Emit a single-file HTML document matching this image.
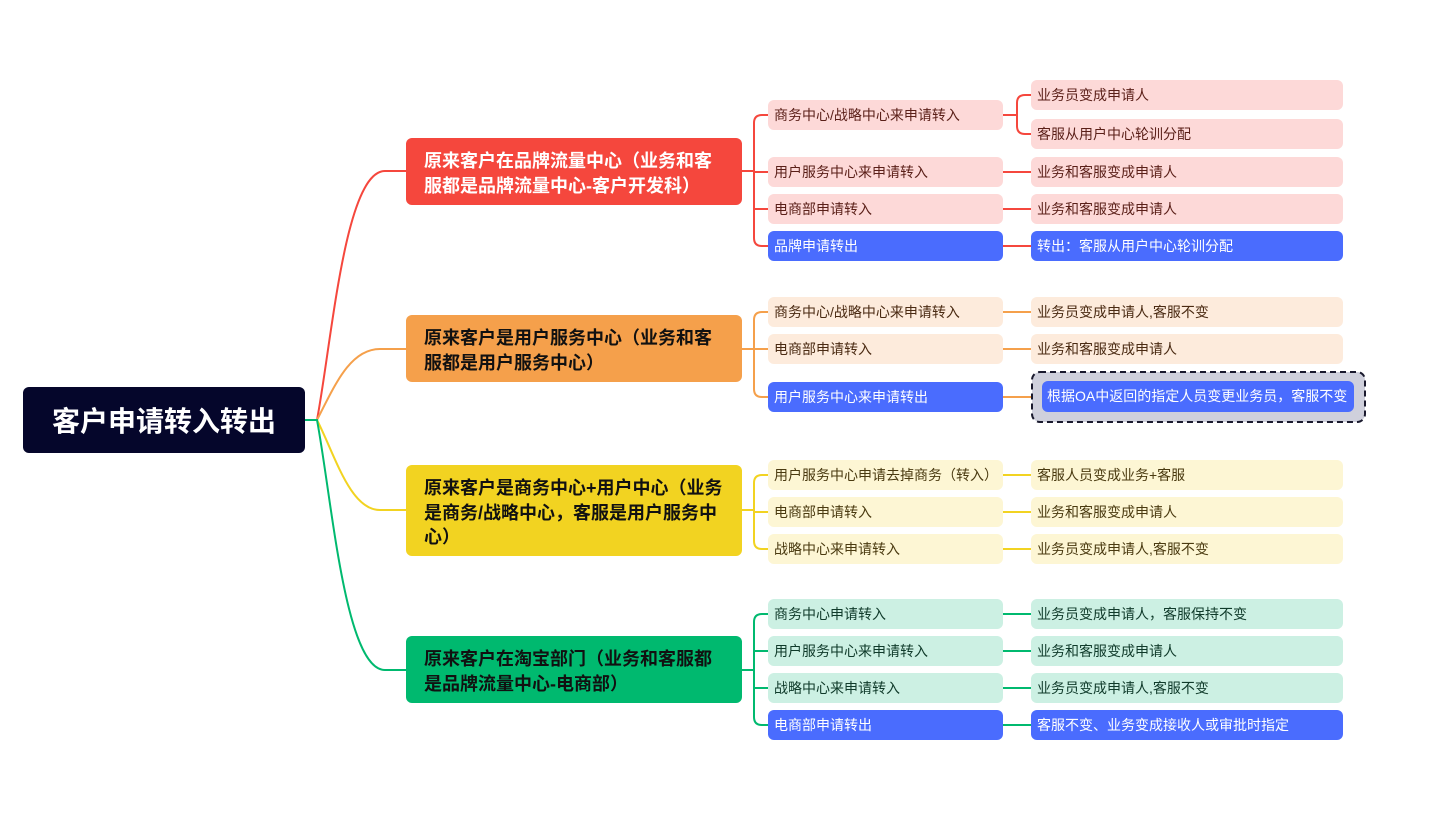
<!DOCTYPE html>
<html><head><meta charset="utf-8"><style>
body{margin:0;background:#fff;}
svg text{font-family:"Liberation Sans","Noto Sans CJK SC",sans-serif;}
.l1{font-size:18px;font-weight:bold;}
.l2{font-size:14px;}
</style></head><body>
<svg width="1443" height="808" viewBox="0 0 1443 808" xmlns="http://www.w3.org/2000/svg">
<g fill="none" stroke-width="2">
<path d="M305,420 L317,420 C332,340 345,171 385,171 L406,171" stroke="#f5473d"/>
<path d="M305,420 L317,420 C335,385 350,349 380,349 L406,349" stroke="#f5a04b"/>
<path d="M305,420 L317,420 C335,455 350,510 380,510 L406,510" stroke="#f2d321"/>
<path d="M305,420 L317,420 C332,500 345,670 385,670 L406,670" stroke="#00b96f"/>
</g>
<rect x="23" y="387" width="282" height="66" rx="6" fill="#05062b"/>
<text x="164" y="431" text-anchor="middle" fill="#fff" font-size="28" font-weight="bold">客户申请转入转出</text>

<g fill="none" stroke="#f5473d" stroke-width="2">
<path d="M741,171 L754,171"/>
<path d="M768,115 L762,115 Q754,115 754,123 L754,238 Q754,246 762,246 L768,246"/>
<path d="M754,172 L768,172 M754,209 L768,209"/>
<path d="M1003,115 L1017,115 M1031,95 L1025,95 Q1017,95 1017,103 L1017,126 Q1017,134 1025,134 L1031,134"/>
<path d="M1003,172 L1031,172 M1003,209 L1031,209 M1003,246 L1031,246"/>
</g>
<rect x="406" y="138" width="336" height="67" rx="6" fill="#f5473d"/>
<text class="l1" x="424" y="167" fill="#fff">原来客户在品牌流量中心（业务和客</text>
<text class="l1" x="424" y="192" fill="#fff">服都是品牌流量中心-客户开发科）</text>
<rect x="768" y="100" width="235" height="30" rx="6" fill="#fdd9d8"/><text x="774" y="120" class="l2" fill="#5a1f18">商务中心/战略中心来申请转入</text>
<rect x="768" y="157" width="235" height="30" rx="6" fill="#fdd9d8"/><text x="774" y="177" class="l2" fill="#5a1f18">用户服务中心来申请转入</text>
<rect x="768" y="194" width="235" height="30" rx="6" fill="#fdd9d8"/><text x="774" y="214" class="l2" fill="#5a1f18">电商部申请转入</text>
<rect x="768" y="231" width="235" height="30" rx="6" fill="#4a6cfe"/><text x="774" y="251" class="l2" fill="#fff">品牌申请转出</text>
<rect x="1031" y="80" width="312" height="30" rx="6" fill="#fdd9d8"/><text x="1037" y="100" class="l2" fill="#5a1f18">业务员变成申请人</text>
<rect x="1031" y="119" width="312" height="30" rx="6" fill="#fdd9d8"/><text x="1037" y="139" class="l2" fill="#5a1f18">客服从用户中心轮训分配</text>
<rect x="1031" y="157" width="312" height="30" rx="6" fill="#fdd9d8"/><text x="1037" y="177" class="l2" fill="#5a1f18">业务和客服变成申请人</text>
<rect x="1031" y="194" width="312" height="30" rx="6" fill="#fdd9d8"/><text x="1037" y="214" class="l2" fill="#5a1f18">业务和客服变成申请人</text>
<rect x="1031" y="231" width="312" height="30" rx="6" fill="#4a6cfe"/><text x="1037" y="251" class="l2" fill="#fff">转出：客服从用户中心轮训分配</text>

<g fill="none" stroke="#f5a04b" stroke-width="2">
<path d="M741,349 L754,349"/>
<path d="M768,312 L762,312 Q754,312 754,320 L754,389 Q754,397 762,397 L768,397"/>
<path d="M754,349 L768,349"/>
<path d="M1003,312 L1031,312 M1003,349 L1031,349 M1003,397 L1042,397"/>
</g>
<rect x="406" y="315" width="336" height="67" rx="6" fill="#f5a04b"/>
<text class="l1" x="424" y="344" fill="#111">原来客户是用户服务中心（业务和客</text>
<text class="l1" x="424" y="369" fill="#111">服都是用户服务中心）</text>
<rect x="768" y="297" width="235" height="30" rx="6" fill="#fdebdc"/><text x="774" y="317" class="l2" fill="#4a2a12">商务中心/战略中心来申请转入</text>
<rect x="768" y="334" width="235" height="30" rx="6" fill="#fdebdc"/><text x="774" y="354" class="l2" fill="#4a2a12">电商部申请转入</text>
<rect x="768" y="382" width="235" height="30" rx="6" fill="#4a6cfe"/><text x="774" y="402" class="l2" fill="#fff">用户服务中心来申请转出</text>
<rect x="1031" y="297" width="312" height="30" rx="6" fill="#fdebdc"/><text x="1037" y="317" class="l2" fill="#4a2a12">业务员变成申请人,客服不变</text>
<rect x="1031" y="334" width="312" height="30" rx="6" fill="#fdebdc"/><text x="1037" y="354" class="l2" fill="#4a2a12">业务和客服变成申请人</text>
<rect x="1032" y="372" width="333" height="50" rx="8" fill="#cfd0dc" stroke="#1a1a2e" stroke-width="2" stroke-dasharray="6,4"/>
<rect x="1042" y="381" width="312" height="31" rx="6" fill="#4a6cfe"/><text x="1047" y="401" class="l2" fill="#fff">根据OA中返回的指定人员变更业务员，客服不变</text>

<g fill="none" stroke="#f2d321" stroke-width="2">
<path d="M741,510 L754,510"/>
<path d="M768,475 L762,475 Q754,475 754,483 L754,541 Q754,549 762,549 L768,549"/>
<path d="M754,512 L768,512"/>
<path d="M1003,475 L1031,475 M1003,512 L1031,512 M1003,549 L1031,549"/>
</g>
<rect x="406" y="465" width="336" height="91" rx="6" fill="#f2d321"/>
<text class="l1" x="424" y="494" fill="#111">原来客户是商务中心+用户中心（业务</text>
<text class="l1" x="424" y="519" fill="#111">是商务/战略中心，客服是用户服务中</text>
<text class="l1" x="424" y="543" fill="#111">心）</text>
<rect x="768" y="460" width="235" height="30" rx="6" fill="#fdf6d4"/><text x="774" y="480" class="l2" fill="#4a3a10">用户服务中心申请去掉商务（转入）</text>
<rect x="768" y="497" width="235" height="30" rx="6" fill="#fdf6d4"/><text x="774" y="517" class="l2" fill="#4a3a10">电商部申请转入</text>
<rect x="768" y="534" width="235" height="30" rx="6" fill="#fdf6d4"/><text x="774" y="554" class="l2" fill="#4a3a10">战略中心来申请转入</text>
<rect x="1031" y="460" width="312" height="30" rx="6" fill="#fdf6d4"/><text x="1037" y="480" class="l2" fill="#4a3a10">客服人员变成业务+客服</text>
<rect x="1031" y="497" width="312" height="30" rx="6" fill="#fdf6d4"/><text x="1037" y="517" class="l2" fill="#4a3a10">业务和客服变成申请人</text>
<rect x="1031" y="534" width="312" height="30" rx="6" fill="#fdf6d4"/><text x="1037" y="554" class="l2" fill="#4a3a10">业务员变成申请人,客服不变</text>

<g fill="none" stroke="#00b96f" stroke-width="2">
<path d="M741,670 L754,670"/>
<path d="M768,614 L762,614 Q754,614 754,622 L754,717 Q754,725 762,725 L768,725"/>
<path d="M754,651 L768,651 M754,688 L768,688"/>
<path d="M1003,614 L1031,614 M1003,651 L1031,651 M1003,688 L1031,688 M1003,725 L1031,725"/>
</g>
<rect x="406" y="636" width="336" height="67" rx="6" fill="#00b96f"/>
<text class="l1" x="424" y="665" fill="#111">原来客户在淘宝部门（业务和客服都</text>
<text class="l1" x="424" y="690" fill="#111">是品牌流量中心-电商部）</text>
<rect x="768" y="599" width="235" height="30" rx="6" fill="#ccf0e3"/><text x="774" y="619" class="l2" fill="#0f3a2a">商务中心申请转入</text>
<rect x="768" y="636" width="235" height="30" rx="6" fill="#ccf0e3"/><text x="774" y="656" class="l2" fill="#0f3a2a">用户服务中心来申请转入</text>
<rect x="768" y="673" width="235" height="30" rx="6" fill="#ccf0e3"/><text x="774" y="693" class="l2" fill="#0f3a2a">战略中心来申请转入</text>
<rect x="768" y="710" width="235" height="30" rx="6" fill="#4a6cfe"/><text x="774" y="730" class="l2" fill="#fff">电商部申请转出</text>
<rect x="1031" y="599" width="312" height="30" rx="6" fill="#ccf0e3"/><text x="1037" y="619" class="l2" fill="#0f3a2a">业务员变成申请人，客服保持不变</text>
<rect x="1031" y="636" width="312" height="30" rx="6" fill="#ccf0e3"/><text x="1037" y="656" class="l2" fill="#0f3a2a">业务和客服变成申请人</text>
<rect x="1031" y="673" width="312" height="30" rx="6" fill="#ccf0e3"/><text x="1037" y="693" class="l2" fill="#0f3a2a">业务员变成申请人,客服不变</text>
<rect x="1031" y="710" width="312" height="30" rx="6" fill="#4a6cfe"/><text x="1037" y="730" class="l2" fill="#fff">客服不变、业务变成接收人或审批时指定</text>
</svg>
</body></html>
